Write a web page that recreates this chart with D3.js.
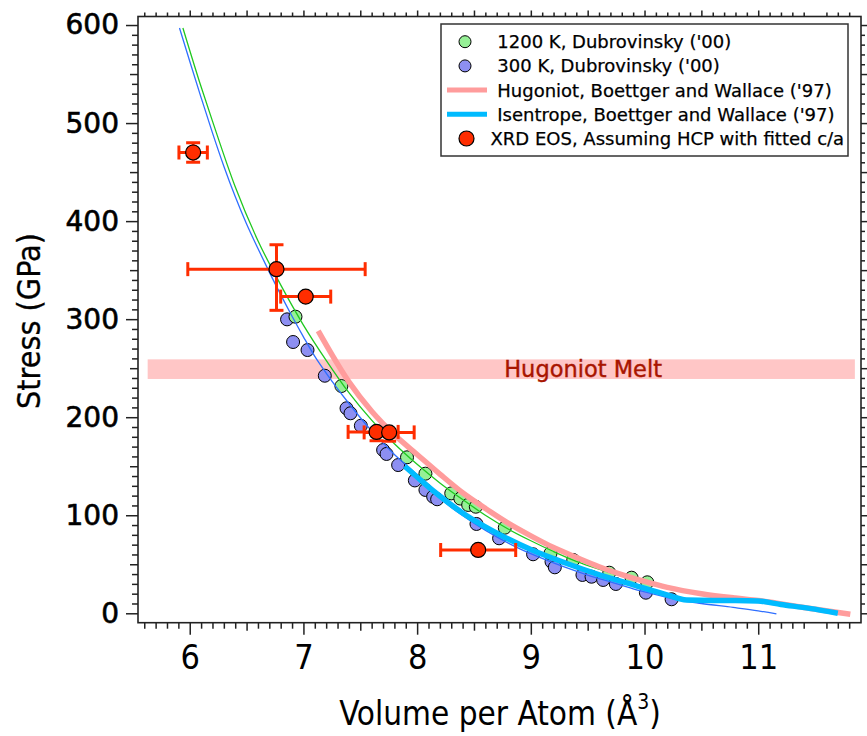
<!DOCTYPE html>
<html>
<head>
<meta charset="utf-8">
<script src="https://cdn.jsdelivr.net/npm/d3@7"></script>
<style>
  html, body { margin: 0; padding: 0; background: #fff; }
  svg { display: block; }
  .tick-lbl-y { font-family: "DejaVu Sans", Verdana, sans-serif; font-size: 28px; fill: #000; stroke: #000; stroke-width: 0.6px; }
  .tick-lbl-x { font-family: "Liberation Sans Narrow", "DejaVu Sans Condensed", "Arial Narrow", sans-serif; font-size: 34px; fill: #000; }
  .axis-title { font-family: "Liberation Sans Narrow", "DejaVu Sans Condensed", "Arial Narrow", sans-serif; fill: #000; }
  .legend-text { font-family: "DejaVu Sans", Verdana, sans-serif; font-size: 18px; fill: #000; stroke: #000; stroke-width: 0.25px; }
</style>
</head>
<body>
<svg id="chart" width="867" height="736"></svg>
<script>
// ---- Dubrovinsky ('00) diffraction points: [volume per atom (Å^3), stress (GPa)]
const dub1200K = [
  [6.93, 302.5], [7.334, 231.8], [7.911, 159.1], [8.073, 142.4], [8.30, 122.3],
  [8.38, 117], [8.449, 110.5], [8.516, 108.7], [8.771, 87.3], [9.173, 61.2],
  [9.373, 54.4], [9.69, 41.4], [9.886, 36.3], [10.024, 31.6]
];
const dub300K = [
  [6.856, 299.8], [6.909, 276.7], [7.036, 268.5], [7.188, 242.3], [7.379, 209.1],
  [7.414, 204], [7.505, 191.3], [7.701, 166.5], [7.731, 162.5], [7.833, 151.2],
  [7.98, 135.5], [8.073, 125.8], [8.141, 118.9], [8.176, 116.3], [8.522, 91.1],
  [8.721, 76.5], [9.02, 60.2], [9.182, 52.6], [9.211, 46.9], [9.454, 39.1],
  [9.534, 37.3], [9.636, 34], [9.748, 29.9], [10.012, 21], [10.238, 14.3]
];

// ---- fitted equations of state through the diffraction data
const fit1200K = [
  [5.94, 597], [6.10, 537], [6.20, 502], [6.40, 435], [6.60, 380], [6.80, 335],
  [7.00, 294], [7.20, 258], [7.40, 225], [7.60, 197], [7.80, 173], [8.00, 152],
  [8.20, 133], [8.40, 116], [8.60, 100], [8.80, 86], [9.00, 74], [9.20, 63],
  [9.40, 53], [9.60, 45], [9.80, 38], [10.00, 31], [10.20, 26], [10.40, 22],
  [10.60, 19], [10.80, 15], [11.00, 12]
];
const fit300K = [
  [5.91, 597], [6.00, 563], [6.10, 526], [6.20, 490], [6.30, 456], [6.40, 425],
  [6.50, 397], [6.60, 372], [6.70, 348], [6.80, 325], [6.90, 303], [7.00, 282],
  [7.10, 262], [7.20, 245], [7.40, 214], [7.60, 186], [7.80, 162], [8.00, 141],
  [8.10, 128], [8.30, 108], [8.50, 92], [8.70, 78], [8.90, 66], [9.10, 56],
  [9.30, 47], [9.50, 39], [9.70, 32], [9.90, 25], [10.10, 19], [10.30, 13.5],
  [10.50, 10], [10.78, 6], [11.00, 2.5], [11.16, -0.7]
];

// ---- Boettger and Wallace ('97)
const hugoniotBW = [
  [7.13, 288], [7.40, 236], [7.60, 206], [7.80, 182], [8.00, 162], [8.20, 142],
  [8.40, 123], [8.60, 107], [8.80, 92], [9.00, 79], [9.20, 67], [9.40, 57],
  [9.60, 47.5], [9.80, 39.5], [10.00, 32.5], [10.20, 26.5], [10.50, 20],
  [10.80, 15.5], [11.00, 13], [11.40, 6], [11.81, -1]
];
const isentropeBW = [
  [7.89, 150], [8.00, 139], [8.14, 125], [8.43, 100], [8.73, 80], [9.02, 64],
  [9.31, 51], [9.61, 39], [9.90, 29], [10.19, 19], [10.37, 13.5], [10.60, 13],
  [10.80, 13], [11.00, 12.5], [11.20, 9], [11.45, 5], [11.70, 0]
];

// ---- XRD EOS points (HCP with fitted c/a) and their error bars
const xrdVolume      = [6.03, 6.763, 7.02, 7.643, 7.754, 8.537];
const xrdStress      = [470, 351, 323, 185, 184.5, 64.6];
const xrdVolErrLo    = [0.125, 0.78, 0.22, 0.25, 0.22, 0.33];
const xrdVolErrHi    = [0.125, 0.78, 0.22, 0.19, 0.22, 0.33];
const xrdStressErrLo = [10, 42, 0, 9, 9, 0];
const xrdStressErrHi = [10, 25, 0, 3, 3, 0];

// ---- Hugoniot melt band
const meltStress = [239, 259];
const meltVolume = [5.63, 11.85];
const meltLabel = "Hugoniot Melt";

// ---- axes
const xMajorTicks = [6, 7, 8, 9, 10, 11];
const yMajorTicks = [0, 100, 200, 300, 400, 500, 600];
const xTitle = "Volume per Atom (Å";
const xTitleSup = "3";
const yTitle = "Stress (GPa)";

const legendItems = [
  { label: "1200 K, Dubrovinsky ('00)", type: "dot", fill: "#96f096" },
  { label: "300 K, Dubrovinsky ('00)", type: "dot", fill: "#8d8ff2" },
  { label: "Hugoniot, Boettger and Wallace ('97)", type: "line", stroke: "#ff9c9c" },
  { label: "Isentrope, Boettger and Wallace ('97)", type: "line", stroke: "#00bbff" },
  { label: "XRD EOS, Assuming HCP with fitted c/a", type: "xrd", fill: "#ff2d00" }
];

const plot = { left: 138, right: 861, top: 16.5, bottom: 622.7 };
const svg = d3.select("#chart");

const x = d3.scaleLinear().domain([5.545, 11.904]).range([plot.left, plot.right]);
const y = d3.scaleLinear().domain([-9.6, 608.7]).range([plot.bottom, plot.top]);

svg.append("clipPath").attr("id", "plotclip")
  .append("rect")
  .attr("x", plot.left).attr("y", plot.top)
  .attr("width", plot.right - plot.left).attr("height", plot.bottom - plot.top);

const g = svg.append("g").attr("clip-path", "url(#plotclip)");

// melt band
g.append("rect")
  .attr("x", x(meltVolume[0])).attr("width", x(meltVolume[1]) - x(meltVolume[0]))
  .attr("y", y(meltStress[1])).attr("height", y(meltStress[0]) - y(meltStress[1]))
  .attr("fill", "#ffc6c6");
g.append("text")
  .attr("x", x(9.46)).attr("y", y((meltStress[0] + meltStress[1]) / 2) + 8)
  .attr("text-anchor", "middle")
  .attr("font-family", "'DejaVu Sans', Verdana, sans-serif")
  .attr("font-size", 22.5)
  .attr("fill", "#a81500").attr("stroke", "#a81500").attr("stroke-width", 0.4)
  .text(meltLabel);

// scatter points
function dots(data, fill) {
  g.append("g").selectAll("circle").data(data).join("circle")
    .attr("cx", d => x(d[0])).attr("cy", d => y(d[1])).attr("r", 6.5)
    .attr("fill", fill).attr("stroke", "#000").attr("stroke-width", 1);
}
dots(dub300K, "#8d8ff2");
dots(dub1200K, "#96f096");

// fitted curves and model curves
const line = d3.line().x(d => x(d[0])).y(d => y(d[1])).curve(d3.curveMonotoneX);
g.append("path").datum(fit300K).attr("d", line)
  .attr("fill", "none").attr("stroke", "#2f6fff").attr("stroke-width", 1.3);
g.append("path").datum(fit1200K).attr("d", line)
  .attr("fill", "none").attr("stroke", "#20c820").attr("stroke-width", 1.3);
g.append("path").datum(hugoniotBW).attr("d", line)
  .attr("fill", "none").attr("stroke", "#ff9c9c").attr("stroke-width", 5.5);
g.append("path").datum(isentropeBW).attr("d", line)
  .attr("fill", "none").attr("stroke", "#00bbff").attr("stroke-width", 5.5);

// XRD points with error bars
const red = "#ff2d00";
const cap = 7;
const eb = g.append("g").attr("stroke", red).attr("stroke-width", 3).attr("fill", "none");
xrdVolume.forEach((v, i) => {
  const cx = x(v), cy = y(xrdStress[i]);
  const x0 = x(v - xrdVolErrLo[i]), x1 = x(v + xrdVolErrHi[i]);
  eb.append("line").attr("x1", x0).attr("x2", x1).attr("y1", cy).attr("y2", cy);
  eb.append("line").attr("x1", x0).attr("x2", x0).attr("y1", cy - cap).attr("y2", cy + cap);
  eb.append("line").attr("x1", x1).attr("x2", x1).attr("y1", cy - cap).attr("y2", cy + cap);
  if (xrdStressErrLo[i] > 0 || xrdStressErrHi[i] > 0) {
    const y0 = y(xrdStress[i] - xrdStressErrLo[i]), y1 = y(xrdStress[i] + xrdStressErrHi[i]);
    eb.append("line").attr("x1", cx).attr("x2", cx).attr("y1", y0).attr("y2", y1);
    eb.append("line").attr("x1", cx - cap).attr("x2", cx + cap).attr("y1", y0).attr("y2", y0);
    eb.append("line").attr("x1", cx - cap).attr("x2", cx + cap).attr("y1", y1).attr("y2", y1);
  }
});
g.append("g").selectAll("circle").data(xrdVolume).join("circle")
  .attr("cx", d => x(d)).attr("cy", (d, i) => y(xrdStress[i])).attr("r", 7.5)
  .attr("fill", red).attr("stroke", "#000").attr("stroke-width", 1.2);

// ---- axes: major / medium / minor ticks on all four sides
const xMinor = d3.range(56, 119).map(d => d / 10).filter(d => Math.abs(d * 2 - Math.round(d * 2)) > 1e-6);
const xMedium = d3.range(6, 12).map(d => d - 0.5).filter(d => d > 5.55);
const yMinor = d3.range(0, 61).map(d => d * 10).filter(d => d % 50 !== 0);
const yMedium = [50, 150, 250, 350, 450, 550];

function tickSet(axisFn, scale, values, size, transform, fmt) {
  const a = axisFn(scale).tickValues(values).tickSize(size).tickSizeOuter(0);
  a.tickFormat(fmt || (() => ""));
  const sel = svg.append("g").attr("transform", transform).call(a);
  sel.select(".domain").remove();
  sel.selectAll(".tick line").attr("stroke", "#222").attr("stroke-width", 1.5);
  return sel;
}
// left
tickSet(d3.axisLeft, y, yMinor, 6, `translate(${plot.left},0)`);
tickSet(d3.axisLeft, y, yMedium, 8, `translate(${plot.left},0)`);
const yAx = tickSet(d3.axisLeft, y, yMajorTicks, 12, `translate(${plot.left},0)`, d3.format("d"));
yAx.selectAll(".tick text").attr("class", "tick-lbl-y").attr("x", -19).attr("font-size", null).attr("font-family", null);
// bottom
tickSet(d3.axisBottom, x, xMinor, 6, `translate(0,${plot.bottom})`);
tickSet(d3.axisBottom, x, xMedium, 8, `translate(0,${plot.bottom})`);
const xAx = tickSet(d3.axisBottom, x, xMajorTicks, 12, `translate(0,${plot.bottom})`, d3.format("d"));
xAx.selectAll(".tick text").attr("class", "tick-lbl-x").attr("y", 22).attr("font-size", null).attr("font-family", null);
// right and top (mirror ticks, no labels)
tickSet(d3.axisRight, y, yMinor, 4, `translate(${plot.right},0)`);
tickSet(d3.axisRight, y, yMedium.concat(yMajorTicks), 6, `translate(${plot.right},0)`);
tickSet(d3.axisTop, x, xMinor, 4, `translate(0,${plot.top})`);
tickSet(d3.axisTop, x, xMedium.concat(xMajorTicks), 6, `translate(0,${plot.top})`);

// frame
svg.append("rect")
  .attr("x", plot.left).attr("y", plot.top)
  .attr("width", plot.right - plot.left).attr("height", plot.bottom - plot.top)
  .attr("fill", "none").attr("stroke", "#222").attr("stroke-width", 1.6);

// axis titles
const xt = svg.append("text").attr("class", "axis-title")
  .attr("x", 500).attr("y", 725).attr("text-anchor", "middle").attr("font-size", 33);
xt.append("tspan").text(xTitle);
xt.append("tspan").attr("font-size", 21).attr("dy", -16).text(xTitleSup);
xt.append("tspan").attr("dy", 16).text(")");

svg.append("text").attr("class", "axis-title")
  .attr("transform", "translate(40,321) rotate(-90)")
  .attr("text-anchor", "middle").attr("font-size", 32)
  .attr("stroke", "#000").attr("stroke-width", 0.3)
  .text(yTitle);

// legend
const lg = svg.append("g");
lg.append("rect").attr("x", 441).attr("y", 24).attr("width", 407).attr("height", 132)
  .attr("fill", "#fff").attr("stroke", "#333").attr("stroke-width", 1.5);
legendItems.forEach((it, i) => {
  const cy = 41.7 + i * 24.2;
  if (it.type === "dot") {
    lg.append("circle").attr("cx", 465).attr("cy", cy).attr("r", 6)
      .attr("fill", it.fill).attr("stroke", "#000").attr("stroke-width", 1);
  } else if (it.type === "line") {
    lg.append("line").attr("x1", 447).attr("x2", 487).attr("y1", cy).attr("y2", cy)
      .attr("stroke", it.stroke).attr("stroke-width", 5);
  } else {
    lg.append("circle").attr("cx", 466.5).attr("cy", cy).attr("r", 7.5)
      .attr("fill", it.fill).attr("stroke", "#000").attr("stroke-width", 1.2);
  }
  lg.append("text").attr("class", "legend-text")
    .attr("x", it.type === "xrd" ? 490.5 : 497.3).attr("y", cy + 6.5)
    .text(it.label);
});
</script>
</body>
</html>
